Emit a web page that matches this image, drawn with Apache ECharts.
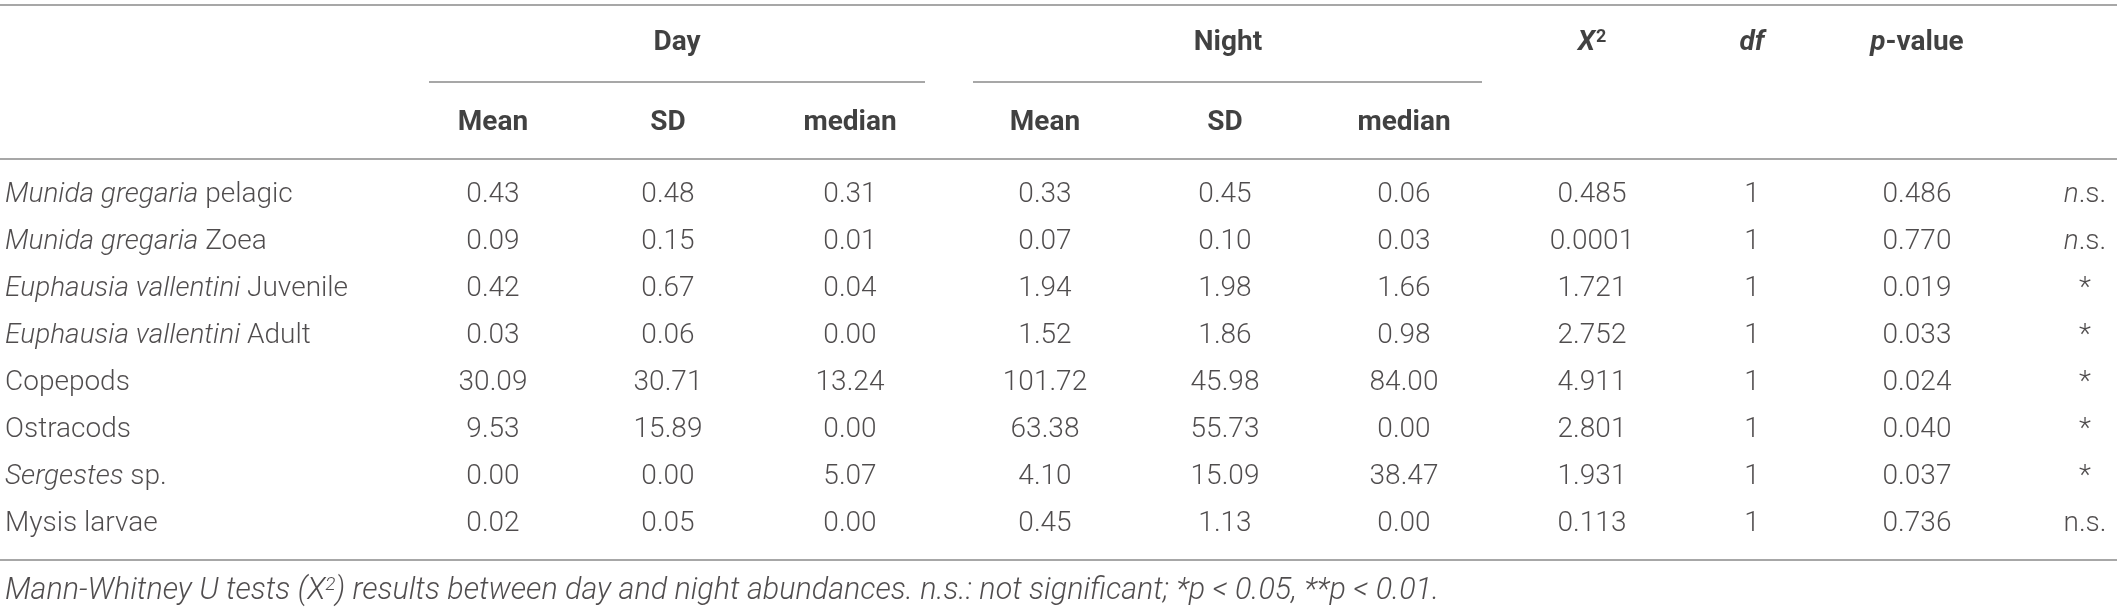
<!DOCTYPE html>
<html>
<head>
<meta charset="utf-8">
<script src="https://cdn.jsdelivr.net/npm/echarts@6/dist/echarts.min.js"></script>
<style>
  html, body { margin: 0; padding: 0; background: #fff; }
  #main { width: 2117px; height: 615px; }
</style>
</head>
<body>
<div id="main"></div>
<script>
// table data
var rowItalic = ['Munida gregaria', 'Munida gregaria', 'Euphausia vallentini', 'Euphausia vallentini', '', '', 'Sergestes', '']
var rowRest = [' pelagic', ' Zoea', ' Juvenile', ' Adult', 'Copepods', 'Ostracods', ' sp.', 'Mysis larvae']
var dayMean = [0.43, 0.09, 0.42, 0.03, 30.09, 9.53, 0.00, 0.02]
var daySD = [0.48, 0.15, 0.67, 0.06, 30.71, 15.89, 0.00, 0.05]
var dayMedian = [0.31, 0.01, 0.04, 0.00, 13.24, 0.00, 5.07, 0.00]
var nightMean = [0.33, 0.07, 1.94, 1.52, 101.72, 63.38, 4.10, 0.45]
var nightSD = [0.45, 0.10, 1.98, 1.86, 45.98, 55.73, 15.09, 1.13]
var nightMedian = [0.06, 0.03, 1.66, 0.98, 84.00, 0.00, 38.47, 0.00]
var chiSq = [0.485, 0.0001, 1.721, 2.752, 4.911, 2.801, 1.931, 0.113]
var df = [1, 1, 1, 1, 1, 1, 1, 1]
var pValue = [0.486, 0.770, 0.019, 0.033, 0.024, 0.040, 0.037, 0.736]
var signif = ['{i|n}.s.', '{i|n}.s.', '*', '*', '*', '*', '*', 'n.s.']
var groupHeaders = ['Day', 'Night']
var subHeaders = ['Mean', 'SD', 'median', 'Mean', 'SD', 'median']
var testHeaders = ['{bi|X}{sup|2}', '{bi|df}', '{bi|p}-value']
var footnote = 'Mann-Whitney U tests (X{fsup|2}) results between day and night abundances. n.s.: not significant; *p < 0.05, **p < 0.01.'

// layout (x in px across the page, y in row units)
var colX = [493, 668, 850, 1045, 1225, 1404, 1592, 1752, 1917]
var groupX = [677, 1228]
var labelX = 5
var sigX = 2085
var headY = -3.23
var subY = -1.53
var footY = 8.43
var ruleTop = -4.04, ruleGroup = -2.40, ruleHead = -0.77, ruleBottom = 7.77

var font = 'Roboto, "Liberation Sans", sans-serif'
var fontSize = 28
var textColor = '#231f20'
var headColor = '#111'
var ruleColor = '#8a8a8a'

var cells = []
var numCols = [dayMean, daySD, dayMedian, nightMean, nightSD, nightMedian]
numCols.forEach(function (col, c) {
  col.forEach(function (v, r) {
    cells.push([colX[c], r, v.toFixed(2)])
  })
})
chiSq.forEach(function (v, r) { cells.push([colX[6], r, String(v)]) })
df.forEach(function (v, r) { cells.push([colX[7], r, String(v)]) })
pValue.forEach(function (v, r) { cells.push([colX[8], r, v.toFixed(3)]) })
signif.forEach(function (s, r) { cells.push([sigX, r, s]) })

var labels = rowItalic.map(function (it, r) {
  return [labelX, r, (it ? '{i|' + it + '}' : '') + rowRest[r]]
})

var heads = groupHeaders.map(function (h, i) { return [groupX[i], headY, h] })
testHeaders.forEach(function (h, i) { heads.push([colX[6 + i], headY, h]) })
subHeaders.forEach(function (h, i) { heads.push([colX[i], subY, h]) })

var rules = [
  { coords: [[0, ruleTop], [2117, ruleTop]] },
  { coords: [[429, ruleGroup], [925, ruleGroup]] },
  { coords: [[973, ruleGroup], [1482, ruleGroup]] },
  { coords: [[0, ruleHead], [2117, ruleHead]] },
  { coords: [[0, ruleBottom], [2117, ruleBottom]] }
]

function textSeries(data, align, style) {
  return {
    type: 'scatter',
    data: data,
    symbolSize: 0,
    silent: true,
    label: Object.assign({
      show: true,
      position: 'inside',
      align: align,
      verticalAlign: 'middle',
      formatter: function (p) { return p.value[2] },
      fontFamily: font,
      fontSize: fontSize,
      fontWeight: 300,
      color: textColor,
      rich: {
        i: { fontFamily: font, fontSize: fontSize, fontWeight: 300, fontStyle: 'italic', color: textColor }
      }
    }, style)
  }
}

var chart = echarts.init(document.getElementById('main'), null, { renderer: 'canvas' })
chart.setOption({
  backgroundColor: '#fff',
  animation: false,
  grid: { left: 0, right: 0, top: 0, bottom: 0 },
  xAxis: { type: 'value', min: 0, max: 2117, show: false },
  yAxis: { type: 'value', inverse: true, min: -4.15, max: 8.94, show: false },
  series: [
    {
      type: 'lines',
      coordinateSystem: 'cartesian2d',
      silent: true,
      lineStyle: { color: ruleColor, width: 1.6, opacity: 1 },
      data: rules
    },
    textSeries(labels, 'left', {}),
    textSeries(cells, 'center', {}),
    textSeries(heads, 'center', {
      fontWeight: 'bold',
      color: headColor,
      rich: {
        bi: { fontFamily: font, fontSize: fontSize, fontWeight: 'bold', fontStyle: 'italic', color: headColor },
        sup: { fontFamily: font, fontSize: 18, fontWeight: 'bold', color: headColor, verticalAlign: 'top', padding: [0, 0, 11, 1] }
      }
    }),
    textSeries([[labelX, footY, footnote]], 'left', {
      fontStyle: 'italic',
      fontSize: 30.5,
      rich: {
        fsup: { fontFamily: font, fontSize: 19, fontWeight: 300, fontStyle: 'italic', color: textColor, verticalAlign: 'top', padding: [0, 0, 12, 0] }
      }
    })
  ]
})
</script>
</body>
</html>
